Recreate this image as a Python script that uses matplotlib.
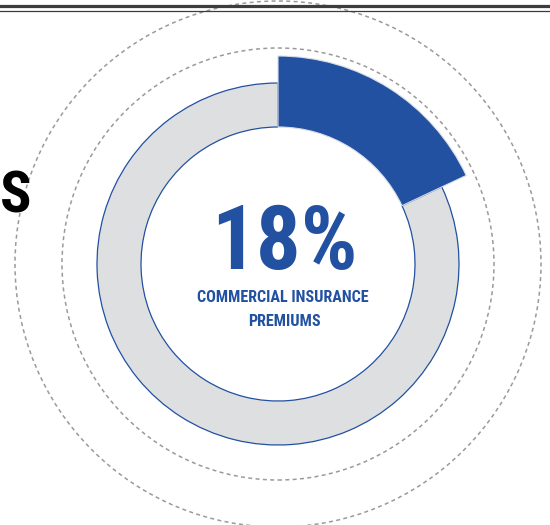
'''
Donut gauge: share of commercial insurance premiums.
Canvas is laid out in pixel units (y up) so it lines up with the 550x525 output.
'''

from matplotlib import pyplot as plt
from matplotlib.patches import Wedge, Circle

# data
share_pct = 18
big_label = '18%'
caption_lines = ['COMMERCIAL INSURANCE', 'PREMIUMS']
side_letter = 'S'

BLUE = '#2251a2'
RING_GRAY = '#dedfe1'
DASH_GRAY = '#9a9a9a'

cx, cy = 278, 261
r_inner = 137
r_ring = 181
r_share = 208

fig = plt.figure(figsize=(5.5, 5.25), dpi=100)
ax = fig.add_axes([0, 0, 1, 1])
ax.set_xlim(0, 550)
ax.set_ylim(0, 525)
ax.set_aspect('equal')
ax.axis('off')

# dashed guide rings
for r in (216, 263):
    ax.add_patch(Circle((cx, cy), r, fill=False, edgecolor=DASH_GRAY,
                        lw=1.1, linestyle=(0, (2.6, 2.2)), zorder=1))

# share wedge starts at 12 o'clock and runs clockwise
sweep = 360 * share_pct / 100
start = 90 - sweep

ax.add_patch(Wedge((cx, cy), r_ring, 90, start + 360, width=r_ring - r_inner,
                   facecolor=RING_GRAY, edgecolor=BLUE, lw=0.9, zorder=2))
ax.add_patch(Wedge((cx, cy), r_share, start, 90, width=r_share - r_inner,
                   facecolor=BLUE, edgecolor='#d9dde6', lw=0.8, zorder=3))

cond = ['Liberation Sans Narrow', 'Roboto Condensed', 'DejaVu Sans Condensed',
        'Liberation Sans']

ax.text(cx + 6, 525 - 244, big_label, ha='center', va='center', color=BLUE,
        fontsize=64, fontweight='heavy', family=cond, zorder=4)
ax.text(cx + 5, 525 - 298, caption_lines[0], ha='center', va='center',
        color=BLUE, fontsize=11.6, fontweight='bold', family=cond, zorder=4)
ax.text(cx + 6, 525 - 321, caption_lines[1], ha='center', va='center',
        color=BLUE, fontsize=11.6, fontweight='bold', family=cond, zorder=4)

ax.text(31, 525 - 197, side_letter, ha='right', va='center', color='black',
        fontsize=42, fontweight='heavy', family=cond, zorder=4)

# header rules
ax.axhline(525 - 5.5, color='#3d3d3d', lw=2.3, zorder=5)
ax.axhline(525 - 11, color='#3d3d3d', lw=0.9, zorder=5)

fig.savefig('out.png', dpi=100)
